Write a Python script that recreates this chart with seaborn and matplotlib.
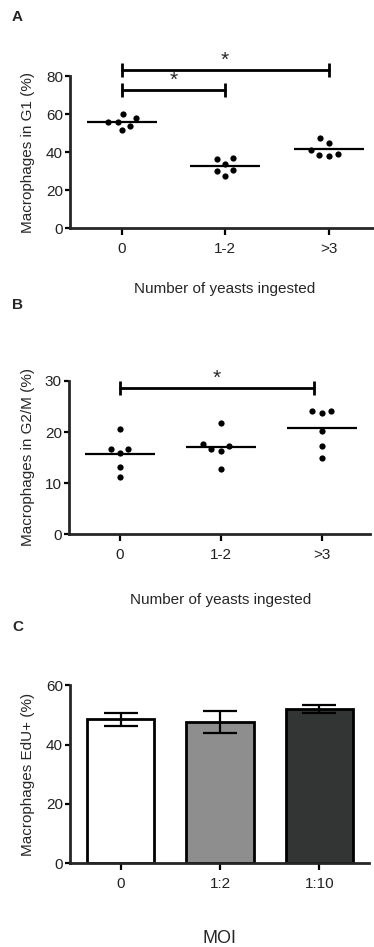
import numpy as np
import pandas as pd
import matplotlib
matplotlib.use("Agg")
import matplotlib.pyplot as plt
import matplotlib.transforms as mtransforms
import seaborn as sns

# donnees
groups = ["0", "1-2", ">3"]
g1_0 = [60.0, 58.0, 56.0, 56.0, 54.0, 51.5]
g1_12 = [36.7, 36.8, 34.0, 30.5, 30.2, 27.4]
g1_3 = [47.5, 45.1, 39.3, 38.3, 38.8, 41.4]
g2m_0 = [20.5, 16.6, 16.6, 15.8, 13.1, 11.1]
g2m_12 = [21.7, 17.6, 16.6, 16.3, 17.3, 12.8]
g2m_3 = [24.2, 23.7, 24.2, 20.1, 17.3, 15.0]
moi = ["0", "1:2", "1:10"]
edu_mean = [48.6, 47.6, 52.1]
edu_sem = [2.2, 3.6, 1.4]
bar_colors = ["#ffffff", "#8e8e8e", "#333535"]

# brackets de significativite : (debut, fin, hauteur)
sig_A = [(0, 2, 83.3), (0, 1, 72.8)]
sig_B = [(0, 1.93, 28.6)]

sns.set_style("ticks")
plt.rcParams["font.family"] = ["Liberation Sans", "DejaVu Sans"]
plt.rcParams["font.size"] = 11
plt.rcParams["axes.labelsize"] = 11
plt.rcParams["xtick.labelsize"] = 11
plt.rcParams["ytick.labelsize"] = 11
plt.rcParams["axes.linewidth"] = 2
plt.rcParams["xtick.major.width"] = 1.6
plt.rcParams["ytick.major.width"] = 1.6
plt.rcParams["xtick.major.size"] = 5
plt.rcParams["ytick.major.size"] = 3.6
plt.rcParams["xtick.major.pad"] = 5
plt.rcParams["ytick.major.pad"] = 1.5
plt.rcParams["xtick.color"] = "black"
plt.rcParams["ytick.color"] = "black"
plt.rcParams["xtick.labelcolor"] = "#222222"
plt.rcParams["ytick.labelcolor"] = "#222222"

W, H = 374, 947
fig = plt.figure(figsize=(W / 100, H / 100), dpi=100)


def px_axes(left, right, top, bottom):
    return fig.add_axes([left / W, 1 - bottom / H, (right - left) / W, (bottom - top) / H])


def scatter_panel(ax, vals, ylabel, ymax, step, xlim, sig):
    df = pd.DataFrame({"grp": np.repeat(groups, [len(v) for v in vals]),
                       "val": np.concatenate(vals)})
    # bord blanc pour espacer les points comme dans l'original
    sns.swarmplot(data=df, x="grp", y="val", order=groups, color="black",
                  size=5.6, edgecolor="white", linewidth=1.1, ax=ax, zorder=3)
    sns.pointplot(data=df, x="grp", y="val", order=groups, errorbar=None,
                  estimator="mean", markers="_", linestyles="none", color="black",
                  markersize=50, markeredgewidth=1.6, zorder=5, ax=ax)
    ax.set_ylim(0, ymax)
    ax.set_yticks(np.arange(0, ymax + 1, step))
    ax.set_xlim(*xlim)
    for x0, x1, y in sig:
        ax.plot([x0, x1], [y, y], color="black", lw=2, marker="|", markersize=10,
                markeredgewidth=2, clip_on=False)
        ax.annotate("*", xy=((x0 + x1) / 2, y), xytext=(0, 0), textcoords="offset points",
                    ha="center", va="bottom", fontsize=15, annotation_clip=False)
    ax.set_ylabel(ylabel)
    ax.set_xlabel("Number of yeasts ingested")
    sns.despine(ax=ax)


# A
axA = px_axes(70, 373, 76.3, 228.3)
scatter_panel(axA, [g1_0, g1_12, g1_3], "Macrophages in G1 (%)", 80, 20, (-0.5, 2.43), sig_A)
axA.yaxis.set_label_coords(-0.139, 0.5)
axA.xaxis.set_label_coords(1, -0.40, transform=mtransforms.blended_transform_factory(axA.transData, axA.transAxes))
axA.xaxis.label.set_va("center")
axA.yaxis.label.set_va("center")

# B
axB = px_axes(69, 370, 381, 534)
scatter_panel(axB, [g2m_0, g2m_12, g2m_3], "Macrophages in G2/M (%)", 30, 10, (-0.5, 2.48), sig_B)
axB.yaxis.set_label_coords(-0.136, 0.5)
axB.xaxis.set_label_coords(1, -0.431, transform=mtransforms.blended_transform_factory(axB.transData, axB.transAxes))
axB.xaxis.label.set_va("center")
axB.yaxis.label.set_va("center")

# C
axC = px_axes(70, 369, 685.3, 863.3)
sns.barplot(x=moi, y=edu_mean, hue=moi, palette=bar_colors, order=moi, hue_order=moi,
            edgecolor="black", linewidth=2, width=0.68, errorbar=None, legend=False,
            saturation=1, ax=axC)
axC.errorbar(x=np.arange(len(moi)), y=edu_mean, yerr=edu_sem, fmt="none", ecolor="black",
             elinewidth=1.6, capsize=12.5, capthick=1.6, zorder=4)
axC.set_ylim(0, 60)
axC.set_yticks([0, 20, 40, 60])
axC.set_xlim(-0.51, 2.5)
axC.set_ylabel("Macrophages EdU+ (%)")
axC.set_xlabel("MOI", fontsize=13)
sns.despine(ax=axC)
axC.yaxis.set_label_coords(-0.14, 0.5)
axC.xaxis.set_label_coords(1, -0.42, transform=mtransforms.blended_transform_factory(axC.transData, axC.transAxes))
axC.xaxis.label.set_va("center")
axC.yaxis.label.set_va("center")

for lab, y in [("A", 17), ("B", 305), ("C", 627)]:
    fig.text(12 / W, 1 - y / H, lab, fontsize=11, fontweight="bold", va="center", ha="left")

fig.savefig("out.png", dpi=100)
